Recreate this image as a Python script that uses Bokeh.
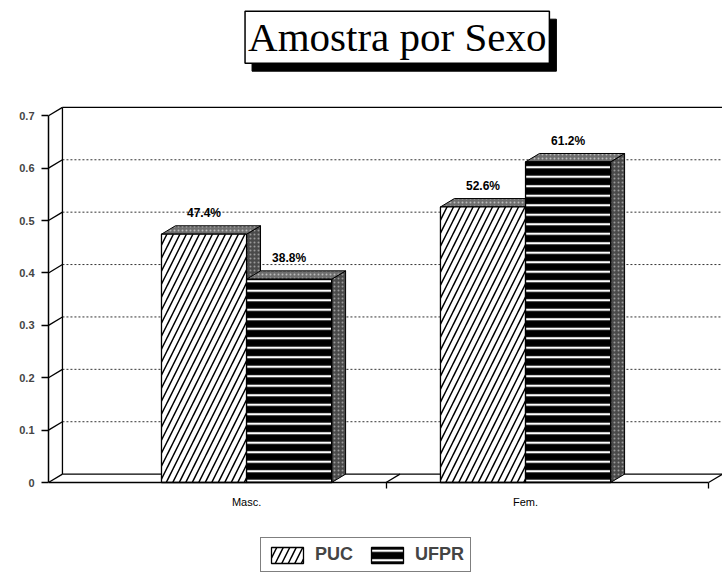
from bokeh.plotting import figure
from bokeh.models import Range1d, FixedTicker, Legend, LegendItem, Label
from bokeh.core.properties import value
from bokeh.embed import file_html
from bokeh.resources import INLINE

# ---------------- data ----------------
categories = ["Masc.", "Fem."]
series_names = ["PUC", "UFPR"]
puc_values = [0.474, 0.526]
ufpr_values = [0.388, 0.612]
puc_labels = ["47.4%", "52.6%"]
ufpr_labels = ["38.8%", "61.2%"]
y_ticks = [0, 0.1, 0.2, 0.3, 0.4, 0.5, 0.6, 0.7]
y_tick_labels = ["0", "0.1", "0.2", "0.3", "0.4", "0.5", "0.6", "0.7"]
title_text = "Amostra por Sexo"

# ---------------- layout constants ----------------
X0, X1 = -0.71, 1.706
Y0, Y1 = -0.1794, 0.92        # frame spans the canvas height (room for title and legend)
DX, DY = 0.05, 0.016          # 3-D depth offset
BAR_W = 0.305
OFFSETS = [-BAR_W / 2, BAR_W / 2]
Y_TOP = y_ticks[-1]

p = figure(width=722, height=576, x_range=Range1d(X0, X1), y_range=Range1d(Y0, Y1),
           output_backend="svg", toolbar_location=None,
           min_border_left=48, min_border_right=0, min_border_top=0, min_border_bottom=0)
p.outline_line_color = None
p.xgrid.visible = False
p.ygrid.visible = False
p.background_fill_color = "white"

# ---------------- back wall / floor ----------------
mid_ticks = y_ticks[1:-1]
p.segment(x0=[X0 + DX] * len(mid_ticks), y0=[v + DY for v in mid_ticks],
          x1=[X1] * len(mid_ticks), y1=[v + DY for v in mid_ticks],
          line_color="#333333", line_width=1, line_dash="2 2")
p.segment(x0=[X0 + DX, X0 + DX, X0 + DX], y0=[DY, Y_TOP + DY, DY],
          x1=[X0 + DX, X1, X1], y1=[Y_TOP + DY, Y_TOP + DY, DY],
          line_color="black", line_width=1.3)
p.segment(x0=[X0] * len(y_ticks), y0=y_ticks,
          x1=[X0 + DX] * len(y_ticks), y1=[v + DY for v in y_ticks],
          line_color="black", line_width=1.3)
p.segment(x0=[0.5, X1 - DX], y0=[0, 0], x1=[0.5 + DX, X1], y1=[DY, DY],
          line_color="black", line_width=1.2)

# ---------------- bars ----------------
styles = {
    "PUC": dict(fill_color="white", hatch_pattern="/", hatch_color="black",
                hatch_scale=13, hatch_weight=1.5),
    "UFPR": dict(fill_color="black", hatch_pattern="-", hatch_color="white",
                 hatch_scale=9.5, hatch_weight=2.2),
}
front_renderers = {}
for name, vals, off in zip(series_names, [puc_values, ufpr_values], OFFSETS):
    centers = [i + off for i in range(len(categories))]
    lefts = [c - BAR_W / 2 for c in centers]
    rights = [c + BAR_W / 2 for c in centers]
    # side faces
    p.patches(xs=[[r, r + DX, r + DX, r] for r in rights],
              ys=[[0, DY, v + DY, v] for v in vals],
              fill_color="#4a4a4a", hatch_pattern="dot", hatch_color="#9a9a9a",
              hatch_scale=4, hatch_weight=1, line_color="black", line_width=1)
    # top faces
    p.patches(xs=[[l, l + DX, r + DX, r] for l, r in zip(lefts, rights)],
              ys=[[v, v + DY, v + DY, v] for v in vals],
              fill_color="#6e6e6e", hatch_pattern="dot", hatch_color="#bbbbbb",
              hatch_scale=4, hatch_weight=1, line_color="black", line_width=1)
    # front faces
    r = p.vbar(x=centers, top=vals, bottom=0, width=BAR_W, line_color="black",
               line_width=1.3, **styles[name])
    front_renderers[name] = r

# value labels
all_x = [i + off for off in OFFSETS for i in range(len(categories))]
all_y = puc_values + ufpr_values
all_t = puc_labels + ufpr_labels
p.text(x=all_x, y=all_y, text=all_t, text_align="center", text_baseline="middle",
       y_offset=-21, text_font=value("Liberation Sans"), text_font_size="12px",
       text_font_style="bold", text_color="black")

# ---------------- axes ----------------
p.yaxis.ticker = FixedTicker(ticks=y_ticks)
p.yaxis.major_label_overrides = dict(zip(y_ticks, y_tick_labels))
p.yaxis.bounds = (y_ticks[0], y_ticks[-1])
p.yaxis.major_tick_out = 7
p.yaxis.major_tick_in = 0
p.yaxis.minor_tick_line_color = None
p.yaxis.major_label_text_font = "Liberation Sans"
p.yaxis.major_label_text_font_size = "11px"
p.yaxis.major_label_text_font_style = "bold"
p.yaxis.major_label_standoff = 7
p.yaxis.axis_line_width = 1.5
p.yaxis.major_tick_line_width = 1.5

p.xaxis.fixed_location = 0
p.xaxis.ticker = FixedTicker(ticks=list(range(len(categories))), minor_ticks=[0.5, X1 - DX])
p.xaxis.major_label_overrides = {i: c for i, c in enumerate(categories)}
p.xaxis.bounds = (X0, X1 - DX)
p.xaxis.major_tick_line_color = None
p.xaxis.minor_tick_out = 6
p.xaxis.minor_tick_in = 0
p.xaxis.minor_tick_line_width = 1.3
p.xaxis.axis_line_width = 1.5
p.xaxis.major_label_standoff = 7
p.xaxis.major_label_text_font = "Liberation Sans"
p.xaxis.major_label_text_font_size = "11px"
p.xaxis.major_label_text_color = "black"

# ---------------- legend ----------------
legend = Legend(items=[LegendItem(label=n, renderers=[front_renderers[n]]) for n in series_names],
                orientation="horizontal", location=(212, 4),
                label_text_font="Liberation Sans", label_text_font_size="18px",
                label_text_font_style="bold", glyph_width=40, glyph_height=20,
                label_standoff=8, spacing=14, padding=6, margin=0,
                border_line_color="black", border_line_width=1.5,
                background_fill_color="white", background_fill_alpha=1)
p.add_layout(legend, "center")

# ---------------- title (boxed, with shadow) ----------------
TITLE_X, TITLE_Y = 0.540, 0.850
common = dict(x=TITLE_X, y=TITLE_Y, x_units="data", y_units="data", text=title_text,
              text_align="center", text_baseline="middle", text_font="Liberation Serif",
              text_font_size="41px", padding=3)
shadow = Label(text_color="black", background_fill_color="black", border_line_color="black",
               x_offset=7, y_offset=-8, **common)
title = Label(text_color="black", background_fill_color="white", border_line_color="black",
              border_line_width=1.5, **common)
p.add_layout(shadow)
p.add_layout(title)

open("out.html", "w").write(file_html(p, INLINE))
